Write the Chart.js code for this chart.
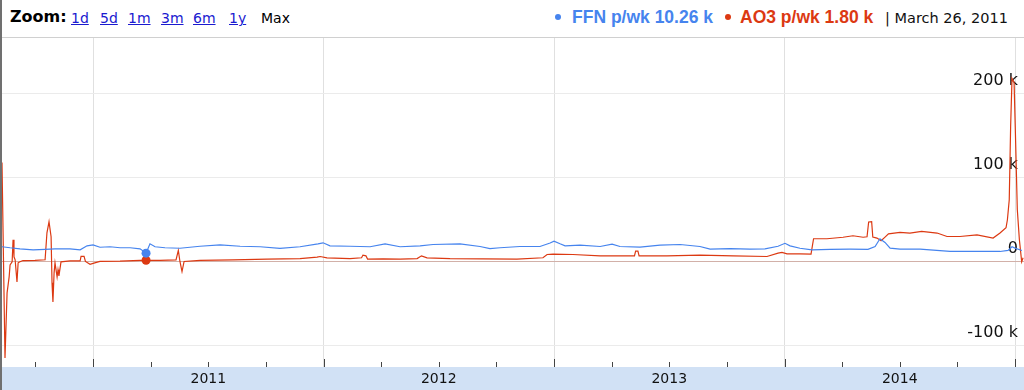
<!DOCTYPE html>
<html>
<head>
<meta charset="utf-8">
<script src="https://cdn.jsdelivr.net/npm/chart.js@4.4.0/dist/chart.umd.min.js"></script>
<style>
  html, body { margin: 0; padding: 0; background: #fff; }
  body { width: 1024px; height: 390px; overflow: hidden; position: relative; }
  #edge { position: absolute; left: 0; top: 0; width: 2px; height: 390px; background: #707070; }
  #head { position: absolute; left: 2px; top: 0; width: 1022px; height: 37px; border-bottom: 1px solid #d0d0d0; }
  .t { position: absolute; white-space: nowrap; }
  .zl { font-family: "DejaVu Sans"; font-size: 14px; line-height: 20px; top: 8px; color: #1a1ad0; text-decoration: underline; }
  #zoomword { font-family: "DejaVu Sans"; font-weight: bold; font-size: 16px; line-height: 20px; top: 7px; left: 8px; color: #000; }
  .leg { font-family: "Liberation Sans"; font-weight: bold; font-size: 17.5px; line-height: 20px; top: 7px; }
  .dot { position: absolute; width: 6px; height: 6px; border-radius: 3px; top: 14px; }
  #datelbl { font-family: "DejaVu Sans"; font-size: 14.5px; line-height: 20px; top: 8px; left: 883px; color: #111; }
  #wrap { position: absolute; left: 2px; top: 38px; width: 1022px; height: 352px; }
</style>
</head>
<body>
<div id="edge"></div>
<div id="head">
  <span class="t" id="zoomword">Zoom:</span>
  <span class="t zl" style="left:69px">1d</span>
  <span class="t zl" style="left:98px">5d</span>
  <span class="t zl" style="left:126px">1m</span>
  <span class="t zl" style="left:159px">3m</span>
  <span class="t zl" style="left:191px">6m</span>
  <span class="t zl" style="left:227px">1y</span>
  <span class="t zl" style="left:259px;color:#000;text-decoration:none">Max</span>
  <span class="dot" id="dotA" style="left:553px"></span>
  <span class="t leg" id="legA" style="left:570px"></span>
  <span class="dot" id="dotB" style="left:723px"></span>
  <span class="t leg" id="legB" style="left:738px"></span>
  <span class="t" id="datelbl"></span>
</div>
<div id="wrap"><canvas id="myChart" width="1022" height="352"></canvas></div>
<script>
// x values are decimal years, y values in thousands
var blue = '#4684ee';
var red = '#dc3912';

var years = [2011, 2012, 2013, 2014];
var gridYears = [2011, 2012, 2013, 2014, 2015];
var quarterTicks = [2010.75, 2011.25, 2011.5, 2011.75, 2012.25, 2012.5, 2012.75,
  2013.25, 2013.5, 2013.75, 2014.25, 2014.5, 2014.75];
var yTicks = [-100, 0, 100, 200];

var ffnX = [2010.605, 2010.640, 2010.683, 2010.740, 2010.792, 2010.835, 2010.900, 2010.944, 2010.974,
  2011.000, 2011.030, 2011.074, 2011.117, 2011.161, 2011.204, 2011.230, 2011.247, 2011.269, 2011.312,
  2011.377, 2011.464, 2011.551, 2011.638, 2011.725, 2011.811, 2011.898, 2011.976, 2011.998, 2012.028,
  2012.115, 2012.202, 2012.267, 2012.332, 2012.419, 2012.475, 2012.592, 2012.679, 2012.722, 2012.766,
  2012.852, 2012.939, 2012.983, 2013.000, 2013.026, 2013.048, 2013.113, 2013.200, 2013.252, 2013.286,
  2013.373, 2013.460, 2013.547, 2013.633, 2013.677, 2013.764, 2013.850, 2013.915, 2013.972, 2014.002,
  2014.024, 2014.067, 2014.119, 2014.197, 2014.284, 2014.362, 2014.393, 2014.414, 2014.436, 2014.458,
  2014.501, 2014.588, 2014.718, 2014.848, 2014.935, 2014.970, 2014.987, 2015.000, 2015.030];
var ffnY = [17.9, 16.7, 15.5, 14.3, 14.9, 15.5, 15.5, 14.3, 19.0,
  20.2, 17.3, 17.9, 16.7, 16.7, 15.5, 10.26, 21.4, 17.9, 16.7,
  16.1, 18.5, 20.2, 18.5, 17.9, 16.1, 17.9, 21.4, 22.6, 19.0,
  18.5, 17.9, 21.4, 17.9, 19.0, 20.6, 21.4, 18.2, 15.8, 16.7,
  18.2, 18.2, 22.3, 24.6, 21.4, 19.0, 19.9, 18.2, 21.1, 18.2,
  17.5, 19.9, 20.6, 18.2, 15.1, 15.8, 15.1, 15.5, 18.5, 22.0,
  19.0, 16.1, 14.3, 14.9, 15.1, 14.9, 18.2, 27.4, 23.0, 16.3,
  15.1, 15.1, 12.5, 12.3, 12.3, 13.5, 17.9, 16.3, 13.5];

var ao3X = [2010.605, 2010.618, 2010.627, 2010.636, 2010.640, 2010.649, 2010.653, 2010.657, 2010.662,
  2010.670, 2010.675, 2010.683, 2010.696, 2010.748, 2010.792, 2010.800, 2010.809, 2010.818, 2010.822,
  2010.826, 2010.831, 2010.835, 2010.844, 2010.848, 2010.852, 2010.861, 2010.900, 2010.944, 2010.948,
  2010.961, 2010.967, 2010.987, 2011.000, 2011.030, 2011.117, 2011.204, 2011.230, 2011.291, 2011.360,
  2011.370, 2011.377, 2011.386, 2011.395, 2011.464, 2011.607, 2011.755, 2011.898, 2011.972, 2011.985,
  2012.015, 2012.115, 2012.165, 2012.171, 2012.184, 2012.191, 2012.258, 2012.332, 2012.406, 2012.425,
  2012.449, 2012.549, 2012.692, 2012.839, 2012.952, 2012.970, 2012.996, 2013.082, 2013.200, 2013.349,
  2013.354, 2013.364, 2013.369, 2013.490, 2013.633, 2013.777, 2013.924, 2013.972, 2013.989, 2014.011,
  2014.067, 2014.115, 2014.126, 2014.184, 2014.254, 2014.297, 2014.341, 2014.358, 2014.365, 2014.378,
  2014.383, 2014.401, 2014.419, 2014.436, 2014.451, 2014.501, 2014.544, 2014.595, 2014.662, 2014.705,
  2014.761, 2014.835, 2014.905, 2014.935, 2014.961, 2014.967, 2014.975, 2014.981, 2014.987, 2014.996,
  2015.001, 2015.010, 2015.019, 2015.029, 2015.035];
var ao3Y = [117.9, -114.3, -36.9, -17.9, -3.6, 0, 26.2, 6.0, 2.4,
  -23.8, -1.2, 0, 1.5, 1.8, 2.4, 34.5, 47.6, 29.8, -25.0,
  -47.6, -13.1, -1.2, -17.9, -9.5, -16.7, 0, 1.2, 1.2, 6.5,
  6.5, 0.4, -3.0, -1.8, 0.6, 0.8, 1.8, 1.80, 1.8, 2.4,
  13.7, 0.4, -11.5, 0.4, 1.8, 2.4, 3.2, 3.9, 5.6, 6.3,
  4.8, 3.9, 4.8, 8.0, 7.1, 3.2, 3.6, 3.2, 3.9, 7.1,
  4.8, 3.9, 3.6, 3.2, 4.8, 8.7, 9.2, 8.7, 7.1, 7.1,
  12.7, 12.7, 7.1, 7.1, 8.0, 7.1, 6.3, 10.4, 11.1, 9.5,
  9.5, 9.2, 27.4, 27.4, 29.2, 31.0, 29.2, 29.8, 47.3, 47.6,
  29.4, 28.2, 25.0, 29.4, 33.3, 34.9, 34.2, 36.1, 34.2, 30.1,
  30.1, 32.1, 28.2, 34.2, 40.5, 50.0, 73.8, 160.7, 218.0, 213.0,
  160.7, 61.9, 26.2, 0, 4.8];

var markerX = 2011.230;
var markerFFN = 10.26;
var markerAO3 = 1.80;
var markerLabel = 'March 26, 2011';

document.getElementById('dotA').style.background = blue;
document.getElementById('dotB').style.background = red;
document.getElementById('legA').style.color = blue;
document.getElementById('legB').style.color = red;
document.getElementById('legA').textContent = 'FFN p/wk ' + markerFFN.toFixed(2) + ' k';
document.getElementById('legB').textContent = 'AO3 p/wk ' + markerAO3.toFixed(2) + ' k';
document.getElementById('datelbl').textContent = '|  ' + markerLabel;

function pts(xs, ys) {
  return xs.map(function (x, i) { return { x: x, y: ys[i] }; });
}

function noRoom(axis) {
  // keep the plot full size: labels sit inside it
  if (axis.isHorizontal()) { axis.height = 0; } else { axis.width = 0; }
  axis.paddingTop = 0; axis.paddingBottom = 0; axis.paddingLeft = 0; axis.paddingRight = 0;
}

var bandPlugin = {
  id: 'band',
  afterDraw: function (chart) {
    var c = chart.ctx, area = chart.chartArea, x = chart.scales.x;
    var top = area.bottom;
    c.save();
    c.fillStyle = '#d1e1f5';
    c.fillRect(0, top, chart.width, chart.height - top);
    c.strokeStyle = '#444';
    c.lineWidth = 1;
    quarterTicks.forEach(function (v) {
      var px = Math.round(x.getPixelForValue(v)) + 0.5;
      c.beginPath(); c.moveTo(px, top - 5); c.lineTo(px, top); c.stroke();
    });
    gridYears.forEach(function (v) {
      var px = Math.round(x.getPixelForValue(v)) + 0.5;
      c.beginPath(); c.moveTo(px, top - 8); c.lineTo(px, top); c.stroke();
    });
    c.fillStyle = '#111';
    c.font = '14px "DejaVu Sans"';
    c.textAlign = 'center';
    c.textBaseline = 'middle';
    years.forEach(function (v) {
      c.fillText(String(v), x.getPixelForValue(v + 0.5), top + 12);
    });
    c.restore();
  }
};

var ctx = document.getElementById('myChart');
var myChart = new Chart(ctx, {
  type: 'line',
  data: {
    datasets: [
      { type: 'scatter', data: [{ x: markerX, y: markerFFN }], pointRadius: 4.5, pointBackgroundColor: blue, pointBorderWidth: 0 },
      { type: 'scatter', data: [{ x: markerX, y: markerAO3 }], pointRadius: 4.5, pointBackgroundColor: red, pointBorderWidth: 0 },
      { label: 'FFN p/wk', data: pts(ffnX, ffnY), borderColor: blue, borderWidth: 1.2, pointRadius: 0, tension: 0 },
      { label: 'AO3 p/wk', data: pts(ao3X, ao3Y), borderColor: red, borderWidth: 1.2, pointRadius: 0, tension: 0 }
    ]
  },
  options: {
    responsive: false,
    animation: false,
    devicePixelRatio: 1,
    layout: { autoPadding: false, padding: { left: 0, right: 0, top: 0, bottom: 23 } },
    plugins: { legend: { display: false }, tooltip: { enabled: false } },
    scales: {
      x: {
        type: 'linear',
        min: 2010.605,
        max: 2015.039,
        afterBuildTicks: function (axis) { axis.ticks = gridYears.map(function (v) { return { value: v }; }); },
        afterFit: noRoom,
        ticks: { display: false },
        grid: { color: '#e0e0e0', drawTicks: false },
        border: { display: false }
      },
      y: {
        position: 'right',
        min: -125,
        max: 266,
        afterBuildTicks: function (axis) { axis.ticks = yTicks.map(function (v) { return { value: v }; }); },
        afterFit: noRoom,
        ticks: {
          mirror: true,
          padding: -6,
          labelOffset: -13,
          color: '#111',
          font: { family: 'DejaVu Sans', size: 16 },
          callback: function (v) { return v === 0 ? '0' : v + ' k'; }
        },
        grid: {
          drawTicks: false,
          color: function (c) { return c.tick && c.tick.value === 0 ? '#d2b0a8' : '#ebebeb'; }
        },
        border: { display: false }
      }
    }
  },
  plugins: [bandPlugin]
});
</script>
</body>
</html>
